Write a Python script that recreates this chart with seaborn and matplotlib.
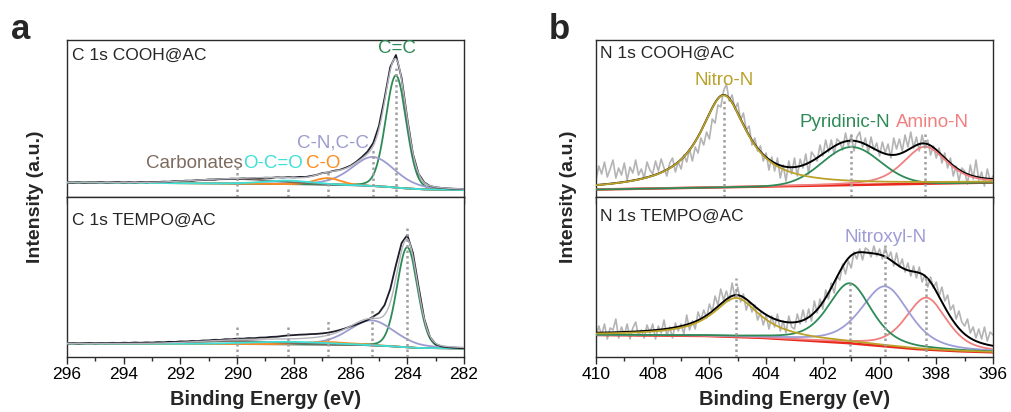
import numpy as np
import matplotlib
matplotlib.use("Agg")
import matplotlib.pyplot as plt
import seaborn as sns
from matplotlib.ticker import MultipleLocator

# Plot style
sns.set_style("ticks")
plt.rcParams['font.family'] = ['Liberation Sans', 'DejaVu Sans']
plt.rcParams.update({
    'font.size': 12.5,
    'xtick.labelsize': 12.5,
    'axes.linewidth': 1.0,
    'axes.edgecolor': '#2b2b2b',
    'xtick.color': '#2b2b2b',
    'xtick.labelcolor': 'black',
})

#%%
# D A T A

# raw spectra (C 1s: 0.2 eV steps 296 -> 282)
c1s_cooh_raw = [14.6, 14.3, 14.7, 14.2, 14.5, 14.4, 14.8, 14.3, 14.6, 14.9,
                14.4, 14.8, 14.5, 15.0, 14.7, 15.1, 15.0, 15.4, 15.3, 15.9,
                15.8, 16.4, 16.2, 16.9, 17.0, 17.5, 17.4, 18.1, 17.9, 18.4,
                18.2, 18.7, 18.4, 19.0, 18.8, 19.3, 19.1, 19.8, 19.5, 19.9,
                19.6, 20.1, 20.0, 21.0, 22.1, 23.9, 24.6, 26.2, 27.0, 29.0,
                31.4, 35.2, 40.0, 45.5, 54.0, 71.0, 99.0, 130.0, 142.0, 119.0,
                78.5, 43.0, 23.0, 14.6, 11.0, 9.8, 9.1, 8.7, 8.3, 8.1,
                7.9]
c1s_tempo_raw = [13.6, 13.9, 13.5, 13.8, 14.1, 13.7, 14.0, 13.8, 14.2, 13.9,
                 14.3, 14.1, 14.5, 14.2, 14.6, 14.4, 14.9, 14.7, 15.2, 15.0,
                 15.6, 15.5, 16.0, 15.9, 16.5, 16.6, 17.2, 17.1, 17.8, 17.7,
                 18.4, 18.3, 18.9, 18.8, 19.4, 19.5, 20.1, 20.3, 21.0, 21.6,
                 21.9, 22.3, 22.5, 22.9, 23.1, 23.6, 24.3, 25.4, 26.8, 28.5,
                 30.6, 32.5, 34.6, 37.0, 40.5, 44.0, 52.0, 68.0, 92.0, 114.0,
                 122.0, 104.0, 70.0, 38.0, 20.0, 13.0, 10.6, 9.8, 9.3, 9.0,
                 8.8]

# N 1s: 0.1 eV steps 410 -> 396
n1s_cooh_raw = [17, 31, 23, 35, 20, 28, 37, 19, 29, 22,
                34, 17, 30, 24, 37, 22, 28, 19, 35, 27,
                23, 36, 26, 38, 29, 21, 34, 39, 25, 35,
                28, 42, 35, 48, 36, 50, 44, 59, 52, 65,
                58, 78, 74, 92, 90, 106, 113, 96, 102, 88,
                94, 77, 84, 67, 71, 52, 59, 46, 51, 36,
                44, 27, 40, 26, 39, 19, 32, 16, 36, 23,
                39, 21, 38, 29, 43, 23, 45, 41, 36, 52,
                41, 57, 45, 57, 43, 58, 55, 47, 64, 51,
                62, 46, 60, 65, 50, 59, 44, 60, 47, 54,
                41, 55, 44, 53, 39, 59, 48, 58, 46, 62,
                50, 65, 49, 60, 46, 62, 49, 57, 42, 51,
                39, 49, 34, 44, 29, 39, 21, 31, 16, 29,
                26, 13, 32, 18, 37, 17, 25, 11, 28, 16,
                21]
n1s_tempo_raw = [20, 31, 22, 33, 18, 29, 27, 38, 19, 30,
                 22, 33, 18, 29, 35, 21, 27, 19, 32, 24,
                 33, 18, 31, 24, 37, 21, 30, 19, 34, 26,
                 33, 23, 42, 27, 36, 28, 45, 37, 47, 39,
                 53, 45, 61, 52, 68, 57, 66, 56, 74, 60,
                 70, 55, 63, 47, 56, 45, 52, 37, 44, 32,
                 42, 28, 41, 30, 43, 26, 36, 24, 41, 30,
                 28, 43, 33, 47, 35, 48, 36, 56, 44, 58,
                 48, 67, 58, 74, 64, 81, 77, 93, 83, 96,
                 89, 105, 98, 108, 97, 109, 107, 100, 111, 101,
                 108, 98, 110, 99, 105, 91, 104, 90, 98, 85,
                 94, 81, 91, 79, 90, 75, 82, 70, 80, 69,
                 75, 61, 70, 56, 62, 47, 52, 38, 46, 35,
                 31, 38, 24, 30, 19, 28, 18, 30, 16, 25,
                 22]

# fitted components: centre (eV), height, fwhm (eV), lorentzian fraction
c1s_names = ["Carbonates", "O-C=O", "C-O", "C-N,C-C", "C=C"]
c1s_cooh_centre = [290.0, 288.2, 286.8, 285.2, 284.4]
c1s_cooh_height = [4.5, 3.5, 6.5, 29, 112]
c1s_cooh_fwhm = [3.5, 2.0, 1.1, 1.8, 0.85]
c1s_cooh_eta = [0, 0, 0, 0.3, 0.1]
c1s_cooh_bg_e = [296, 290, 287, 285.5, 284.6, 284.0, 283.3, 282]
c1s_cooh_bg = [14.5, 13.5, 12.5, 11.5, 10, 8.5, 7.5, 7]
c1s_cooh_mark = [30, 10, 27, 47, 132]

c1s_tempo_centre = [290.0, 288.2, 286.8, 285.25, 284.0]
c1s_tempo_height = [3.0, 2.5, 2.5, 25, 100]
c1s_tempo_fwhm = [3.5, 3.2, 2.0, 1.9, 0.85]
c1s_tempo_eta = [0, 0, 0, 0.3, 0.1]
c1s_tempo_bg_e = [296, 290, 287, 285.5, 284.4, 283.6, 282]
c1s_tempo_bg = [13.5, 13.0, 12.5, 12.0, 10.5, 9.0, 8.5]
c1s_tempo_mark = [32, 31, 36, 47, 130]

n1s_cooh_names = ["Nitro-N", "Pyridinic-N", "Amino-N"]
n1s_cooh_centre = [405.5, 401.0, 398.4]
n1s_cooh_height = [92, 38, 37]
n1s_cooh_fwhm = [2.0, 2.4, 1.8]
n1s_cooh_eta = [1.0, 0.0, 0.5]
n1s_cooh_bg_e = [410, 396]
n1s_cooh_bg = [7.5, 14.5]
n1s_cooh_mark = [97, 65, 65]

n1s_tempo_names = ["Nitro-N", "Pyridinic-N", "Nitroxyl-N", "Amino-N"]
n1s_tempo_centre = [405.05, 401.05, 399.8, 398.35]
n1s_tempo_height = [39, 60, 60, 52]
n1s_tempo_fwhm = [2.0, 1.8, 2.0, 1.7]
n1s_tempo_eta = [1.0, 0.5, 0.5, 0.5]
n1s_tempo_bg_e = [410, 406, 404, 401, 398.6, 397, 396]
n1s_tempo_bg = [22, 21, 19, 13.7, 7.7, 5.5, 4.7]
n1s_tempo_mark = [79, 77, 112, 79]

#############################################################################

c1s_colors = ["#7d6b60", "#3fe0d6", "#ff8c1e", "#9c9ccf", "#2e8b57"]
# drawing order of the C 1s components (last one ends up on top)
c1s_order = [4, 3, 2, 0, 1]
n1s_colors = {"Nitro-N": "#bba22a", "Pyridinic-N": "#2e8b57",
              "Nitroxyl-N": "#9d9dd8", "Amino-N": "#f08080"}


def pvoigt(e, centre, height, fwhm, eta):
    d = (e - centre) / fwhm
    g = np.exp(-4 * np.log(2) * d ** 2)
    lo = 1 / (1 + 4 * d ** 2)
    return height * ((1 - eta) * g + eta * lo)


def draw_fit(ax, e_raw, raw, centre, height, fwhm, eta, bg_e, bg, colors, marks,
             xlim, raw_color, env_color, bg_color, raw_on_top, order):
    grid = np.linspace(xlim[0], xlim[1], 701)
    base = np.interp(grid, bg_e[::-1], bg[::-1])
    comps = [pvoigt(grid, c, h, w, n) for c, h, w, n in zip(centre, height, fwhm, eta)]
    env = base + np.sum(comps, axis=0)

    sns.lineplot(x=e_raw, y=raw, ax=ax, color=raw_color, lw=1.3 if raw_on_top else 1.2,
                 errorbar=None, zorder=5 if raw_on_top else 1)
    sns.lineplot(x=grid, y=base, ax=ax, color=bg_color, lw=1.3 if raw_on_top else 1.8,
                 errorbar=None, zorder=2)
    sns.lineplot(x=grid, y=env, ax=ax, color=env_color, lw=1.0 if raw_on_top else 1.4,
                 errorbar=None, zorder=6 if raw_on_top else 3)
    for k, i in enumerate(order):
        sns.lineplot(x=grid, y=base + comps[i], ax=ax, color=colors[i], lw=1.3,
                     errorbar=None, zorder=4 + 0.01 * k)
    ax.vlines(centre, 0, marks, colors="#a0a0a0", lw=1.8, linestyles=(0, (1, 1.2)), zorder=7)

    ax.set_xlim(*xlim)
    ax.set_yticks([])
    ax.set_ylabel("")
    ax.xaxis.set_major_locator(MultipleLocator(2))
    ax.xaxis.set_minor_locator(MultipleLocator(1))
    ax.tick_params(axis='x', which='major', direction='out', length=5, width=1.0, pad=2)
    ax.tick_params(axis='x', which='minor', direction='out', length=3, width=1.0)
    for s in ax.spines.values():
        s.set_visible(True)


fig = plt.figure(figsize=(10.12, 4.12), dpi=100)
ax_a1 = fig.add_axes([0.0662, 0.5218, 0.3923, 0.3811])
ax_a2 = fig.add_axes([0.0662, 0.1335, 0.3923, 0.3883])
ax_b1 = fig.add_axes([0.5889, 0.5218, 0.3923, 0.3811])
ax_b2 = fig.add_axes([0.5889, 0.1335, 0.3923, 0.3883])

e_c1s = np.round(np.arange(296.0, 281.99, -0.2), 1)
e_n1s = np.round(np.arange(410.0, 395.99, -0.1), 1)

#### panel a
draw_fit(ax_a1, e_c1s, c1s_cooh_raw, c1s_cooh_centre, c1s_cooh_height, c1s_cooh_fwhm,
         c1s_cooh_eta, c1s_cooh_bg_e, c1s_cooh_bg, c1s_colors, c1s_cooh_mark,
         (296, 282), "#1e1e2a", "#b4b4bc", "#4d4d4d", True, c1s_order)
draw_fit(ax_a2, e_c1s, c1s_tempo_raw, c1s_tempo_centre, c1s_tempo_height, c1s_tempo_fwhm,
         c1s_tempo_eta, c1s_tempo_bg_e, c1s_tempo_bg, c1s_colors, c1s_tempo_mark,
         (296, 282), "#1e1e2a", "#b4b4bc", "#4d4d4d", True, c1s_order)
ax_a1.set_ylim(0, 157)
ax_a2.set_ylim(0, 160)
ax_a1.tick_params(labelbottom=False)
ax_a1.set_xlabel("")

ax_a1.text(0.012, 0.905, "C 1s COOH@AC", transform=ax_a1.transAxes, ha='left', va='center')
ax_a2.text(0.012, 0.852, "C 1s TEMPO@AC", transform=ax_a2.transAxes, ha='left', va='center')
label_xy = [(291.52, 34), (288.74, 34), (286.97, 34), (286.62, 54), (284.35, 149)]
for name, (x, y), col in zip(c1s_names, label_xy, c1s_colors):
    ax_a1.text(x, y, name, color=col, ha='center', va='center', fontsize=13.5)

#### panel b
draw_fit(ax_b1, e_n1s, n1s_cooh_raw, n1s_cooh_centre, n1s_cooh_height, n1s_cooh_fwhm,
         n1s_cooh_eta, n1s_cooh_bg_e, n1s_cooh_bg, [n1s_colors[n] for n in n1s_cooh_names],
         n1s_cooh_mark, (410, 396), "#b4b4b4", "black", "#e8291c", False, [2, 1, 0])
draw_fit(ax_b2, e_n1s, n1s_tempo_raw, n1s_tempo_centre, n1s_tempo_height, n1s_tempo_fwhm,
         n1s_tempo_eta, n1s_tempo_bg_e, n1s_tempo_bg, [n1s_colors[n] for n in n1s_tempo_names],
         n1s_tempo_mark, (410, 396), "#b4b4b4", "black", "#e8291c", False, [3, 2, 1, 0])
ax_b1.set_ylim(0, 157)
ax_b2.set_ylim(0, 160)
ax_b1.tick_params(labelbottom=False)
ax_b1.set_xlabel("")

ax_b1.text(0.01, 0.915, "N 1s COOH@AC", transform=ax_b1.transAxes, ha='left', va='center')
ax_b2.text(0.01, 0.877, "N 1s TEMPO@AC", transform=ax_b2.transAxes, ha='left', va='center')
ax_b1.text(405.49, 117, "Nitro-N", color=n1s_colors["Nitro-N"], ha='center', va='center', fontsize=13.5)
ax_b1.text(401.22, 75, "Pyridinic-N", color=n1s_colors["Pyridinic-N"], ha='center', va='center', fontsize=13.5)
ax_b1.text(398.15, 75, "Amino-N", color=n1s_colors["Amino-N"], ha='center', va='center', fontsize=13.5)
ax_b2.text(399.8, 120, "Nitroxyl-N", color=n1s_colors["Nitroxyl-N"], ha='center', va='center', fontsize=13.5)

for ax in (ax_a2, ax_b2):
    ax.set_xlabel("Binding Energy (eV)", fontsize=14.4, fontweight='bold', labelpad=6)

fig.text(36 / 1012, 1 - 197 / 412, "Intensity (a.u.)", rotation=90, ha='center', va='center',
         fontsize=14, fontweight='bold')
fig.text(569 / 1012, 1 - 197 / 412, "Intensity (a.u.)", rotation=90, ha='center', va='center',
         fontsize=14, fontweight='bold')
fig.text(21 / 1012, 1 - 39 / 412, "a", ha='center', va='baseline', fontsize=25, fontweight='bold')
fig.text(559 / 1012, 1 - 39 / 412, "b", ha='center', va='baseline', fontsize=25, fontweight='bold')

plt.savefig("out.png", dpi=100)
